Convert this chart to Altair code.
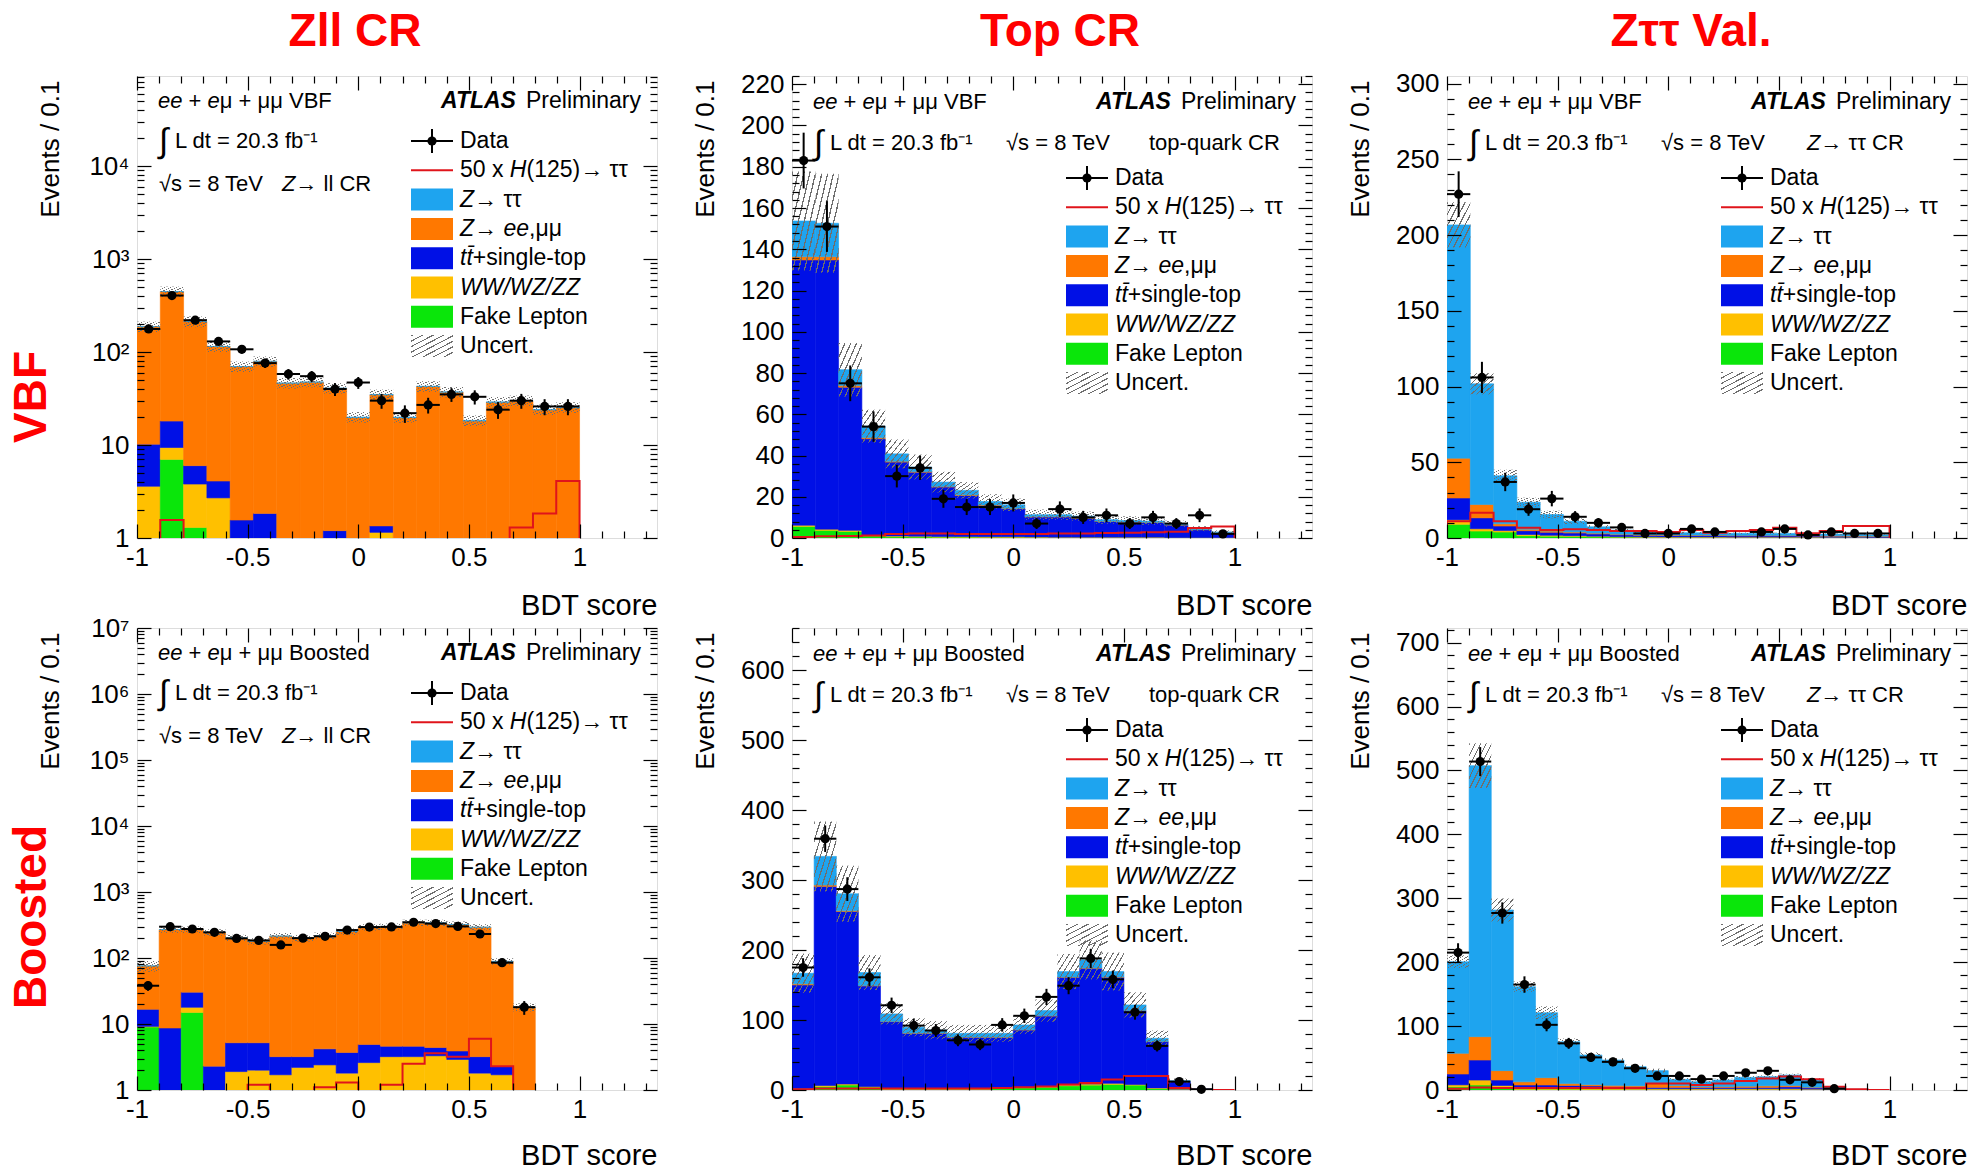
import math
import altair as alt
import pandas as pd

FONT = "Liberation Sans"
W, H = 520, 462
HSP, VSP = 135, 90

C_ZTT = "#1ea4ef"
C_ZLL = "#ff7800"
C_TOP = "#0010e6"
C_VV = "#ffc000"
C_FAKE = "#0ae60a"
C_SIG = "#e0141b"
RED = "#ff0000"

comp_names = ["Fake Lepton", "WW/WZ/ZZ", "top", "Zll", "Ztt"]
comp_colors = [C_FAKE, C_VV, C_TOP, C_ZLL, C_ZTT]

# ---- binning: VBF 19 equal bins on [-1,1]; Boosted 20 bins of 0.1 ----
vbf_edges = [-1 + 2 * k / 19 for k in range(20)]
boost_edges = [round(-1 + 0.1 * k, 2) for k in range(21)]

# ---------------- Z->ll CR, VBF (log) ----------------
zll_vbf_fake = [0, 7.0, 1.3, 0, 0, 0, 0, 0, 0, 0, 0, 0, 0, 0, 0, 0, 0, 0, 0]
zll_vbf_vv = [3.6, 2.4, 2.5, 2.7, 0.3, 0.3, 0.2, 0.2, 0.3, 0.2, 1.15, 0.2, 0.2, 0.2, 0.2, 0.2, 0.2, 0.2, 0.2]
zll_vbf_top = [6.6, 8.7, 2.2, 1.4, 1.26, 1.54, 0.3, 0.3, 0.9, 0.3, 0.2, 0.3, 0.3, 0.3, 0.3, 0.3, 0.3, 0.3, 0.3]
zll_vbf_zll = [177.5, 428.6, 206.7, 110.6, 68.1, 77.5, 45.7, 46.9, 39.5, 19.2, 33.3, 19.2, 42.1, 36.5, 17.6, 28.3, 29.3, 23.3, 24.7]
zll_vbf_ztt = [0.3] * 19
zll_vbf_data = [177, 405, 220, 130, 107, 76, 58, 55, 40, 47, 30, 22, 27, 35, 33, 24, 30, 26, 26]
zll_vbf_sig = [0.5, 1.56, 0.6, 0.5, 0.4, 0.4, 0.3, 0.3, 0.3, 0.3, 0.3, 0.3, 0.3, 0.4, 0.5, 0.7, 1.3, 1.83, 4.1]
zll_vbf_err = [24, 58, 28, 15, 9, 10, 6, 6, 5.3, 2.6, 4.5, 2.6, 5.6, 4.8, 2.4, 3.8, 3.9, 3.1, 3.3]

# ---------------- Top CR, VBF ----------------
top_vbf_fake = [5.6, 3.7, 3.2, 1.0, 0.6, 0.5, 0.4, 0.4, 0.3, 0.3, 0.3, 0.2, 0.2, 0.2, 0.2, 0.2, 0.1, 0.1, 0.1]
top_vbf_vv = [0.6, 0.6, 0.5, 0.4, 0.4, 0.4, 0.3, 0.3, 0.3, 0.3, 0.2, 0.2, 0.2, 0.2, 0.2, 0.2, 0.1, 0.1, 0.1]
top_vbf_top = [128.6, 130.5, 69.4, 46.7, 35.8, 31.0, 24.0, 19.9, 15.2, 13.6, 9.7, 9.8, 9.2, 7.6, 7.3, 7.1, 6.1, 3.8, 2.4]
top_vbf_zll = [1.6, 1.6, 0.8, 0.6, 0.4, 0.3, 0.3, 0.3, 0.2, 0.2, 0.2, 0.2, 0.2, 0.1, 0.1, 0.1, 0.1, 0.1, 0.1]
top_vbf_ztt = [17.3, 16.2, 7.7, 5.5, 3.6, 2.2, 2.1, 2.2, 1.7, 1.7, 0.9, 0.9, 0.8, 0.8, 0.7, 0.6, 0.5, 0.4, 0.2]
top_vbf_data = [183, 151, 75, 54, 30, 34, 19, 15, 15, 17, 7, 14, 10, 11, 7, 10, 7, 11, 2]
top_vbf_sig = [0.5, 0.8, 1.0, 1.2, 2.0, 2.2, 2.2, 2.0, 2.0, 2.0, 2.0, 2.2, 2.2, 2.4, 2.6, 2.8, 3.0, 4.8, 5.6]
top_vbf_err = [24, 24, 13, 8, 7, 6, 5, 4, 3.5, 3, 2.5, 2.5, 2.2, 2, 2, 1.8, 1.5, 1.2, 0.8]

# ---------------- Z->tautau val., VBF ----------------
ztt_vbf_fake = [9.0, 4.6, 3.9, 1.5, 1.2, 1.0, 0.8, 0.6, 0.5, 0.4, 0.4, 0.4, 0.3, 0.3, 0.3, 0.3, 0.3, 0.3, 0.2]
ztt_vbf_vv = [3.0, 1.5, 1.0, 0.8, 0.6, 0.5, 0.4, 0.3, 0.3, 0.3, 0.3, 0.3, 0.3, 0.3, 0.3, 0.3, 0.2, 0.2, 0.2]
ztt_vbf_top = [14.4, 7.2, 3.0, 2.5, 2.0, 1.8, 1.5, 1.2, 1.0, 1.0, 0.9, 0.9, 0.8, 0.8, 0.8, 0.7, 0.7, 0.6, 0.5]
ztt_vbf_zll = [26.3, 8.8, 1.5, 1.0, 0.8, 0.6, 0.5, 0.4, 0.3, 0.3, 0.3, 0.3, 0.3, 0.3, 0.3, 0.3, 0.3, 0.3, 0.3]
ztt_vbf_ztt = [154.0, 79.7, 31.7, 17.8, 10.9, 7.2, 4.2, 2.7, 1.8, 1.9, 1.6, 1.6, 1.4, 1.4, 1.3, 1.2, 1.1, 1.0, 0.8]
ztt_vbf_data = [227, 106, 37, 19, 26, 14, 10, 7, 3, 3, 6, 4, None, 4, 6, 2, 4, 3, 3]
ztt_vbf_sig = [11.1, 16.6, 11.1, 6.8, 5.2, 5.7, 5.2, 4.6, 4.6, 3.9, 5.2, 3.5, 4.6, 5.2, 6.8, 3.1, 4.6, 8.0, 8.0]
ztt_vbf_err = [15, 7, 4, 3, 2.5, 1.8, 1.2, 0.9, 0.7, 0.7, 0.6, 0.6, 0.5, 0.5, 0.5, 0.5, 0.4, 0.4, 0.3]

# ---------------- Z->ll CR, Boosted (log) ----------------
zll_bst_fake = [9.0, 0, 15.0, 0, 0, 0, 0, 0, 0, 0, 0, 0, 0, 0, 0, 0, 0, 0, 0, 0]
zll_bst_vv = [0.2, 0.2, 2.9, 0.2, 1.9, 2.0, 1.7, 2.2, 2.4, 1.8, 2.6, 3.2, 3.2, 3.3, 2.9, 1.8, 1.7, 0.2, 0, 0]
zll_bst_top = [7.5, 8.5, 12.5, 2.1, 3.3, 3.2, 1.5, 1.0, 1.8, 1.9, 2.3, 1.4, 1.4, 1.1, 1.0, 1.4, 0.6, 0.1, 0, 0]
zll_bst_zll = [59.0, 261.0, 239.3, 242.4, 197.5, 174.5, 211.5, 196.5, 213.5, 248.0, 287.8, 296.1, 337.1, 337.3, 317.8, 289.5, 86.4, 17.4, 0, 0]
zll_bst_ztt = [0.3] * 18 + [0, 0]
zll_bst_data = [38, 298, 275, 245, 198, 185, 158, 200, 213, 265, 294, 296, 348, 332, 301, 231, 85, 18, None, None]
zll_bst_sig = [0.3, 0.3, 0.4, 0.5, 0.6, 1.2, 0.8, 0.8, 1.1, 1.3, 0.9, 1.2, 2.5, 3.6, 3.2, 6.0, 2.3, 0.3, 0, 0]
zll_bst_err = [14, 30, 30, 27, 22, 20, 24, 22, 24, 28, 32, 33, 38, 38, 35, 32, 10, 2.5, 0, 0]

# ---------------- Top CR, Boosted ----------------
top_bst_fake = [1, 5, 7, 4, 1, 1, 1, 1, 1, 2, 3, 4, 6, 7, 8, 7, 2, 1, 0, 0]
top_bst_vv = [1, 1.5, 1.5, 1, 1, 1, 1, 1, 1, 1, 1, 1, 1.5, 1.5, 1.5, 1, 1, 0.3, 0, 0]
top_bst_top = [148.1, 284.3, 246.5, 143.7, 95.7, 79.0, 79.0, 73.3, 73.3, 72.3, 81.8, 100.8, 153.6, 165.5, 151.6, 105.4, 66.1, 10.7, 1.2, 0]
top_bst_zll = [1.5, 2, 1, 0.5, 0.3, 0.3, 0.3, 0.3, 0.3, 0.3, 0.3, 0.3, 0.3, 0.3, 0.3, 0.3, 0.3, 0.1, 0, 0]
top_bst_ztt = [15.2, 40.9, 24.3, 18.6, 10.7, 8.3, 4.2, 5.4, 5.4, 5.4, 6.8, 7.3, 7.8, 11.6, 7.8, 7.8, 4.5, 1.2, 0.3, 0]
top_bst_data = [175, 359, 287, 161, 121, 92, 85, 71, 65, 93, 106, 133, 149, 188, 158, 111, 63, 12, 1, None]
top_bst_sig = [1, 2, 2, 2, 2, 2, 2, 2, 2, 3, 4, 5, 8, 10, 15, 20, 20, 3, 0.5, 0]
top_bst_err = [28, 50, 40, 25, 15, 13, 13, 12, 12, 12, 13, 16, 25, 28, 27, 18, 11, 3, 0.5, 0]

# ---------------- Z->tautau val., Boosted ----------------
ztt_bst_fake = [5, 7.8, 3, 1, 1, 1, 0.8, 0.7, 0.5, 0.5, 0.5, 0.5, 0.5, 0.5, 0.5, 0.5, 0.4, 0.2, 0, 0]
ztt_bst_vv = [3, 7.8, 4, 2, 2, 2, 2, 1.5, 1.5, 1.5, 1.5, 1.5, 1.5, 1.5, 1.5, 1.5, 1, 0.3, 0, 0]
ztt_bst_top = [17, 31.3, 8.6, 4.8, 4.8, 4, 3.5, 3, 2.5, 2, 2, 2, 2, 2, 2, 3, 2, 0.5, 0.2, 0]
ztt_bst_zll = [32.4, 36.6, 14.7, 5, 11.5, 3, 2, 2, 2, 6, 3, 1, 1.5, 2, 2.5, 2, 1, 0.3, 0.1, 0]
ztt_bst_ztt = [143.4, 424.1, 251.4, 148.9, 101.7, 65.6, 46.5, 39.7, 30.0, 20.3, 9.7, 8.0, 10.1, 13.8, 14.4, 16.5, 12.3, 3.9, 0.7, 0]
ztt_bst_data = [215, 514, 277, 165, 102, 73, 51, 44, 34, 22, 22, 17, 22, 27, 30, 16, 12, 2, None, None]
ztt_bst_sig = [2, 4, 3, 3, 3, 3, 3, 3, 3, 10, 10, 8, 10, 14, 18, 21, 17, 5, 1, 0]
ztt_bst_err = [10, 35, 18, 8, 10, 5, 4, 3, 3, 3, 2, 2, 2, 2, 2, 2, 2, 1, 0.3, 0]

# ---------------- helpers ----------------
ONE = alt.Data(values=[{"o": 1}])

CW = {' ': .278, '+': .584, ',': .278, '-': .333, '.': .278, '/': .278, '=': .584, '(': .333, ')': .333,
      'A': .667, 'B': .667, 'C': .722, 'D': .722, 'E': .667, 'F': .611, 'H': .722, 'I': .278, 'L': .556,
      'P': .667, 'R': .722, 'S': .667, 'T': .611, 'V': .667, 'W': .944, 'Z': .611,
      'a': .556, 'b': .556, 'c': .5, 'd': .556, 'e': .556, 'f': .278, 'g': .556, 'h': .556, 'i': .222,
      'k': .5, 'l': .222, 'm': .833, 'n': .556, 'o': .556, 'p': .556, 'q': .556, 'r': .333, 's': .5,
      't': .278, 'u': .556, 'v': .5, 'x': .5, 'y': .5, '\u2192': 1.0, '\u03c4': .45, '\u03bc': .576,
      '\u0304': 0.0}


def twidth(s, size):
    return sum(CW.get(ch, .556) for ch in s) * size


def T(s, x, y, size=22, style="", align="left", color="black", angle=None, baseline="middle"):
    kw = dict(text=s, font=FONT, fontSize=size, align=align, baseline=baseline, color=color)
    if "i" in style:
        kw["fontStyle"] = "italic"
    if "b" in style:
        kw["fontWeight"] = "bold"
    if angle is not None:
        kw["angle"] = angle
    return alt.Chart(ONE).mark_text(**kw).encode(x=alt.value(x), y=alt.value(y))


def rich(segs, x, y, size):
    out = []
    cx = x
    for s, st in segs:
        stripped = s.lstrip(" ")
        cx += twidth(s[: len(s) - len(stripped)], size)
        if stripped:
            out.append(T(stripped, cx, y, size, st))
        cx += twidth(stripped, size)
    return out


def hatch_gradient():
    gray = "#6e6e6e"
    clear = "rgba(255,255,255,0)"
    N = 8
    stops = []
    for k in range(N):
        a = k / N
        b = (k + 0.22) / N
        c = (k + 1) / N
        stops += [alt.GradientStop(color=gray, offset=a), alt.GradientStop(color=gray, offset=b),
                  alt.GradientStop(color=clear, offset=b), alt.GradientStop(color=clear, offset=min(c, 1.0))]
    return alt.LinearGradient(gradient="linear", stops=stops, x1=0, y1=0, x2=1, y2=1)


HATCH = hatch_gradient()


def tick_axis(orient, values, size):
    return alt.Axis(orient=orient, values=values, offset=-size, tickSize=size, labels=False,
                    domain=False, grid=False, ticks=True, title=None, tickColor="black",
                    tickWidth=1.2, zindex=2)


LOG_EXPR = ("datum.value == 1 ? '1' : datum.value == 10 ? '10' : datum.value == 100 ? '10\u00b2' : "
            "datum.value == 1000 ? '10\u00b3' : datum.value == 10000 ? '10\u2074' : "
            "datum.value == 100000 ? '10\u2075' : datum.value == 1000000 ? '10\u2076' : '10\u2077'")
X_EXPR = ("datum.value == -1 ? '-1' : datum.value == -0.5 ? '-0.5' : datum.value == 0 ? '0' : "
          "datum.value == 0.5 ? '0.5' : '1'")

X_MAJ = [-1, -0.5, 0, 0.5, 1]
X_MIN = [round(k * 0.1, 2) for k in range(-10, 14) if k % 5 != 0]


def legend_layers(y0):
    L = []
    bx0, bx1, tx = 274, 316, 323
    step = 29.3
    entries = [
        ("data", [("Data", "")], None),
        ("line", [("50 x ", ""), ("H", "i"), ("(125)\u2192 \u03c4\u03c4", "")], C_SIG),
        ("box", [("Z", "i"), ("\u2192 \u03c4\u03c4", "")], C_ZTT),
        ("box", [("Z", "i"), ("\u2192 ", ""), ("ee", "i"), (",\u03bc\u03bc", "")], C_ZLL),
        ("box", [("tt\u0304", "i"), ("+single-top", "")], C_TOP),
        ("box", [("WW/WZ/ZZ", "i")], C_VV),
        ("box", [("Fake Lepton", "")], C_FAKE),
        ("hatch", [("Uncert.", "")], None),
    ]
    for j, (kind, segs, col) in enumerate(entries):
        y = y0 + j * step
        cx = (bx0 + bx1) / 2
        if kind == "data":
            L.append(alt.Chart(ONE).mark_rule(color="black", strokeWidth=2).encode(
                x=alt.value(bx0), x2=alt.value(bx1), y=alt.value(y)))
            L.append(alt.Chart(ONE).mark_rule(color="black", strokeWidth=2).encode(
                x=alt.value(cx), y=alt.value(y - 12), y2=alt.value(y + 12)))
            L.append(alt.Chart(ONE).mark_point(filled=True, shape="circle", size=85, color="black",
                                               opacity=1).encode(x=alt.value(cx), y=alt.value(y)))
        elif kind == "line":
            L.append(alt.Chart(ONE).mark_rule(color=col, strokeWidth=2).encode(
                x=alt.value(bx0), x2=alt.value(bx1), y=alt.value(y)))
        elif kind == "box":
            L.append(alt.Chart(ONE).mark_rect(fill=col).encode(
                x=alt.value(bx0), x2=alt.value(bx1), y=alt.value(y - 11), y2=alt.value(y + 11)))
        else:
            L.append(alt.Chart(ONE).mark_rect(fill=HATCH).encode(
                x=alt.value(bx0), x2=alt.value(bx1), y=alt.value(y - 11), y2=alt.value(y + 11)))
        L += rich(segs, tx, y, 23)
    return L


def build_panel(p):
    edges = p["edges"]
    n = len(edges) - 1
    log = p["log"]
    floor = 1e-3 if log else 0.0
    srows, urows, sig, drows = [], [], [], []
    k = 0
    sig.append(dict(x=edges[0], y=floor, k=k))
    for i in range(n):
        lo, hi = edges[i], edges[i + 1]
        base = 0.0
        for name, arr in zip(comp_names, p["comps"]):
            v = arr[i]
            if v > 0:
                srows.append(dict(lo=lo, hi=hi, y0=max(base, floor) if log else base, y1=base + v, comp=name))
                base += v
        e = p["err"][i]
        if base > 0 and e > 0:
            urows.append(dict(lo=lo, hi=hi, d0=max(base - e, floor), d1=base + e))
        s = max(p["sig"][i], floor) if log else p["sig"][i]
        k += 1
        sig.append(dict(x=lo, y=s, k=k))
        k += 1
        sig.append(dict(x=hi, y=s, k=k))
        d = p["data"][i]
        if d is not None and d > 0:
            er = math.sqrt(d)
            drows.append(dict(lo=lo, hi=hi, c=(lo + hi) / 2, v=d, vlo=max(d - er, floor), vhi=d + er))
    k += 1
    sig.append(dict(x=edges[-1], y=floor, k=k))

    sdf, udf, gdf, ddf = pd.DataFrame(srows), pd.DataFrame(urows), pd.DataFrame(sig), pd.DataFrame(drows)

    xs = alt.Scale(domain=[-1, 1.35], nice=False, zero=False)
    if log:
        ys = alt.Scale(type="log", domain=p["ydom"], nice=False)
    else:
        ys = alt.Scale(domain=p["ydom"], nice=False, zero=False)
    cs = alt.Scale(domain=comp_names, range=comp_colors)

    xlab = alt.Axis(values=X_MAJ, labelExpr=X_EXPR, ticks=False, tickSize=0, domain=False, grid=False,
                    labelFont=FONT, labelFontSize=26, labelColor="black", labelPadding=6,
                    title="BDT score", titleFont=FONT, titleFontSize=29, titleFontWeight="normal",
                    titleColor="black", titleAlign="right", titleX=W, titleY=p.get("xty", 76),
                    titleBaseline="alphabetic", labelFlush=False)
    yargs = dict(values=p["ymaj"], ticks=False, tickSize=0, domain=False, grid=False, labelFont=FONT,
                 labelFontSize=26, labelColor="black", labelPadding=8, title="Events / 0.1",
                 titleFont=FONT, titleFontSize=26, titleFontWeight="normal", titleColor="black",
                 titleAngle=270, titleAlign="right", titleBaseline="middle", titleX=-87, titleY=4,
                 labelFlush=False)
    if log:
        yargs["labelExpr"] = LOG_EXPR
    ylab = alt.Axis(**yargs)

    L_stack = alt.Chart(sdf).mark_rect(clip=True, strokeWidth=0.6).encode(
        x=alt.X("lo:Q", scale=xs, axis=xlab), x2="hi:Q",
        y=alt.Y("y1:Q", scale=ys, axis=ylab), y2="y0:Q",
        color=alt.Color("comp:N", scale=cs, legend=None),
        stroke=alt.Stroke("comp:N", scale=cs, legend=None))
    L_hatch = alt.Chart(udf).mark_rect(clip=True, fill=HATCH).encode(
        x=alt.X("lo:Q", scale=xs, axis=tick_axis("bottom", X_MAJ, 14)), x2="hi:Q",
        y=alt.Y("d1:Q", scale=ys, axis=tick_axis("left", p["ymaj"], 14)), y2="d0:Q")
    L_sig = alt.Chart(gdf).mark_line(clip=True, color=C_SIG, strokeWidth=2).encode(
        x=alt.X("x:Q", scale=xs, axis=tick_axis("bottom", X_MIN, 7)),
        y=alt.Y("y:Q", scale=ys, axis=tick_axis("left", p["ymin"], 7)),
        order="k:Q")
    L_ev = alt.Chart(ddf).mark_rule(clip=True, color="black", strokeWidth=2).encode(
        x=alt.X("c:Q", scale=xs, axis=tick_axis("top", X_MAJ, 14)),
        y=alt.Y("vlo:Q", scale=ys, axis=tick_axis("right", p["ymaj"], 14)), y2="vhi:Q")
    L_eh = alt.Chart(ddf).mark_rule(clip=True, color="black", strokeWidth=2).encode(
        x=alt.X("lo:Q", scale=xs, axis=tick_axis("top", X_MIN, 7)), x2="hi:Q",
        y=alt.Y("v:Q", scale=ys, axis=tick_axis("right", p["ymin"], 7)))
    L_pts = alt.Chart(ddf).mark_point(filled=True, shape="circle", size=85, color="black", opacity=1).encode(
        x=alt.X("c:Q", scale=xs, axis=None), y=alt.Y("v:Q", scale=ys, axis=None))

    layers = [L_stack, L_hatch, L_sig, L_ev, L_eh, L_pts]

    # header texts
    reg = p["region"]
    y1 = 25 if p["cr"] == "zll" else 26
    layers += rich([("ee", "i"), (" + ", ""), ("e", "i"), ("\u03bc + \u03bc\u03bc " + reg, "")], 21, y1, 22)
    layers.append(T("ATLAS", 304, y1, 23, "bi"))
    layers.append(T("Preliminary", 389, y1, 23))
    y2 = 65 if p["cr"] == "zll" else 67
    layers.append(T("\u222b", 22, y2 + 1, 34))
    layers.append(T("L dt = 20.3 fb\u207b\u00b9", 38, y2, 22))
    if p["cr"] == "zll":
        layers.append(T("\u221as = 8 TeV", 22, 108, 22))
        layers += rich([("Z", "i"), ("\u2192 ll CR", "")], 145, 108, 22)
        ly0 = 65
    elif p["cr"] == "top":
        layers.append(T("\u221as = 8 TeV", 214, y2, 22))
        layers.append(T("top-quark CR", 357, y2, 22))
        ly0 = 102
    else:
        layers.append(T("\u221as = 8 TeV", 214, y2, 22))
        layers += rich([("Z", "i"), ("\u2192 \u03c4\u03c4 CR", "")], 360, y2, 22)
        ly0 = 102
    layers += legend_layers(ly0)

    if "coltitle" in p:
        t, cx = p["coltitle"]
        layers.append(T(t, cx, -44, 46, "b", align="center", color=RED))
    if "rowtitle" in p:
        t, cy = p["rowtitle"]
        layers.append(T(t, -105, cy, 46, "b", align="center", color=RED, angle=270))

    return alt.layer(*layers).properties(width=W, height=H).resolve_axis(x="independent", y="independent")


def log_minor(top):
    return [m * 10 ** e for e in range(0, 8) for m in range(2, 10) if m * 10 ** e < top]


def lin_minor(top, step, major):
    return [v for v in range(0, int(top) + 1, step) if v % major != 0]


panels = [
    dict(edges=vbf_edges, log=True, ydom=[1, 9.3e4], ymaj=[1, 10, 100, 1000, 10000], ymin=log_minor(9.3e4),
         comps=[zll_vbf_fake, zll_vbf_vv, zll_vbf_top, zll_vbf_zll, zll_vbf_ztt],
         data=zll_vbf_data, sig=zll_vbf_sig, err=zll_vbf_err, region="VBF", cr="zll",
         coltitle=("Zll CR", 218), rowtitle=("VBF", 321)),
    dict(edges=vbf_edges, log=False, ydom=[0, 224], ymaj=list(range(0, 221, 20)), ymin=lin_minor(224, 4, 20),
         comps=[top_vbf_fake, top_vbf_vv, top_vbf_top, top_vbf_zll, top_vbf_ztt],
         data=top_vbf_data, sig=top_vbf_sig, err=top_vbf_err, region="VBF", cr="top",
         coltitle=("Top CR", 268)),
    dict(edges=vbf_edges, log=False, ydom=[0, 305], ymaj=list(range(0, 301, 50)), ymin=lin_minor(305, 10, 50),
         comps=[ztt_vbf_fake, ztt_vbf_vv, ztt_vbf_top, ztt_vbf_zll, ztt_vbf_ztt],
         data=ztt_vbf_data, sig=ztt_vbf_sig, err=ztt_vbf_err, region="VBF", cr="ztt",
         coltitle=("Z\u03c4\u03c4 Val.", 244)),
    dict(edges=boost_edges, log=True, ydom=[1, 1e7], ymaj=[1, 10, 100, 1000, 10000, 100000, 1000000, 10000000],
         ymin=log_minor(1e7), comps=[zll_bst_fake, zll_bst_vv, zll_bst_top, zll_bst_zll, zll_bst_ztt],
         data=zll_bst_data, sig=zll_bst_sig, err=zll_bst_err, region="Boosted", cr="zll",
         rowtitle=("Boosted", 289), xty=74),
    dict(edges=boost_edges, log=False, ydom=[0, 660], ymaj=list(range(0, 601, 100)), ymin=lin_minor(660, 20, 100),
         comps=[top_bst_fake, top_bst_vv, top_bst_top, top_bst_zll, top_bst_ztt],
         data=top_bst_data, sig=top_bst_sig, err=top_bst_err, region="Boosted", cr="top", xty=74),
    dict(edges=boost_edges, log=False, ydom=[0, 723], ymaj=list(range(0, 701, 100)), ymin=lin_minor(723, 20, 100),
         comps=[ztt_bst_fake, ztt_bst_vv, ztt_bst_top, ztt_bst_zll, ztt_bst_ztt],
         data=ztt_bst_data, sig=ztt_bst_sig, err=ztt_bst_err, region="Boosted", cr="ztt", xty=74),
]

charts = [build_panel(p) for p in panels]
chart = alt.concat(*charts, columns=3, spacing={"row": VSP, "column": HSP}, bounds="flush").properties(
    padding={"left": 8, "top": 8, "right": 0, "bottom": 0}
).configure_view(stroke="black", strokeWidth=1.6).configure(background="white")

chart.save("out.html", embed_options={"renderer": "svg", "actions": False})
